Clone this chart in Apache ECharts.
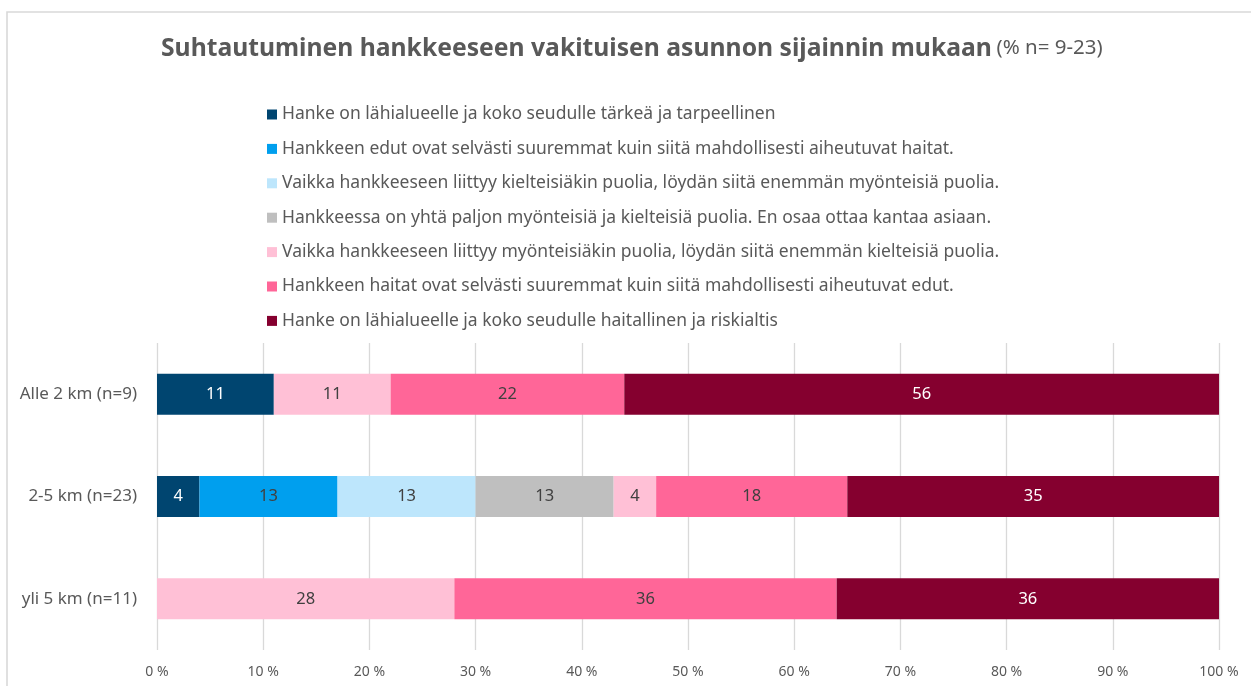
<!DOCTYPE html>
<html>
<head>
<meta charset="utf-8">
<script src="https://cdn.jsdelivr.net/npm/echarts@6/dist/echarts.min.js"></script>
<style>
  html, body { margin: 0; padding: 0; background: #fff; }
  #chart { width: 1251px; height: 686px; }
</style>
</head>
<body>
<div id="chart"></div>
<script>
const categories = ['Alle 2 km (n=9)', '2-5 km (n=23)', 'yli 5 km (n=11)']

const seriesNames = [
  'Hanke on lähialueelle ja koko seudulle tärkeä ja tarpeellinen',
  'Hankkeen edut ovat selvästi suuremmat kuin siitä mahdollisesti aiheutuvat haitat.',
  'Vaikka hankkeeseen liittyy kielteisiäkin puolia, löydän siitä enemmän myönteisiä puolia.',
  'Hankkeessa on yhtä paljon myönteisiä ja kielteisiä puolia. En osaa ottaa kantaa asiaan.',
  'Vaikka hankkeeseen liittyy myönteisiäkin puolia, löydän siitä enemmän kielteisiä puolia.',
  'Hankkeen haitat ovat selvästi suuremmat kuin siitä mahdollisesti aiheutuvat edut.',
  'Hanke on lähialueelle ja koko seudulle haitallinen ja riskialtis'
]

// one array per answer option, values per category (top to bottom)
const tarkea = [11, 4, 0]
const edutSuuremmat = [0, 13, 0]
const enemmanMyonteisia = [0, 13, 0]
const yhtaPaljon = [0, 13, 0]
const enemmanKielteisia = [11, 4, 28]
const haitatSuuremmat = [22, 18, 36]
const haitallinen = [56, 35, 36]

const xTicks = [0, 10, 20, 30, 40, 50, 60, 70, 80, 90, 100]

const values = [tarkea, edutSuuremmat, enemmanMyonteisia, yhtaPaljon, enemmanKielteisia, haitatSuuremmat, haitallinen]
const colors = ['#004570', '#009fee', '#bde6fc', '#bfbfbf', '#ffc0d6', '#ff6698', '#85002f']
const labelColors = ['#ffffff', '#404040', '#404040', '#404040', '#404040', '#404040', '#ffffff']

const font = 'Noto Sans'

let chart = echarts.init(document.getElementById('chart'))
chart.setOption({
  animation: false,
  textStyle: { fontFamily: font },
  graphic: [
    {
      type: 'rect',
      shape: { x: 7, y: 12, width: 1300, height: 700 },
      style: { fill: 'none', stroke: '#d9d9d9', lineWidth: 1.6 },
      silent: true
    }
  ],
  title: {
    text: '{b|Suhtautuminen hankkeeseen vakituisen asunnon sijainnin mukaan} {n|(% n= 9-23)}',
    left: 156,
    top: 31,
    textStyle: {
      rich: {
        b: { fontFamily: font, fontSize: 24.7, fontWeight: 'bold', color: '#595959' },
        n: { fontFamily: font, fontSize: 20.5, fontWeight: 'normal', color: '#595959' }
      }
    }
  },
  legend: {
    orient: 'vertical',
    left: 262,
    top: 99,
    icon: 'rect',
    itemWidth: 10,
    itemHeight: 10,
    itemGap: 13.4,
    selectedMode: false,
    textStyle: { fontSize: 17.5, color: '#595959', lineHeight: 21, fontFamily: font },
    data: seriesNames
  },
  grid: {
    left: 157,
    right: 32,
    top: 343,
    bottom: 36
  },
  xAxis: {
    type: 'value',
    min: 0,
    max: 100,
    interval: 10,
    axisLine: { show: false },
    axisTick: { show: false },
    splitLine: { lineStyle: { color: '#d9d9d9', width: 1.3 } },
    axisLabel: {
      color: '#595959',
      fontSize: 14,
      margin: 15,
      customValues: xTicks,
      formatter: (v) => v + ' %'
    }
  },
  yAxis: {
    type: 'category',
    inverse: true,
    data: categories,
    axisLine: { show: false },
    axisTick: { show: false },
    axisLabel: { color: '#595959', fontSize: 17, margin: 20 }
  },
  series: values.map((vals, i) => ({
    name: seriesNames[i],
    type: 'bar',
    stack: 'total',
    barWidth: 41,
    data: vals,
    itemStyle: { color: colors[i] },
    label: {
      show: true,
      position: 'inside',
      color: labelColors[i],
      fontSize: 16.5,
      fontFamily: font,
      formatter: (p) => (p.value > 0 ? p.value : '')
    }
  }))
})
</script>
</body>
</html>
